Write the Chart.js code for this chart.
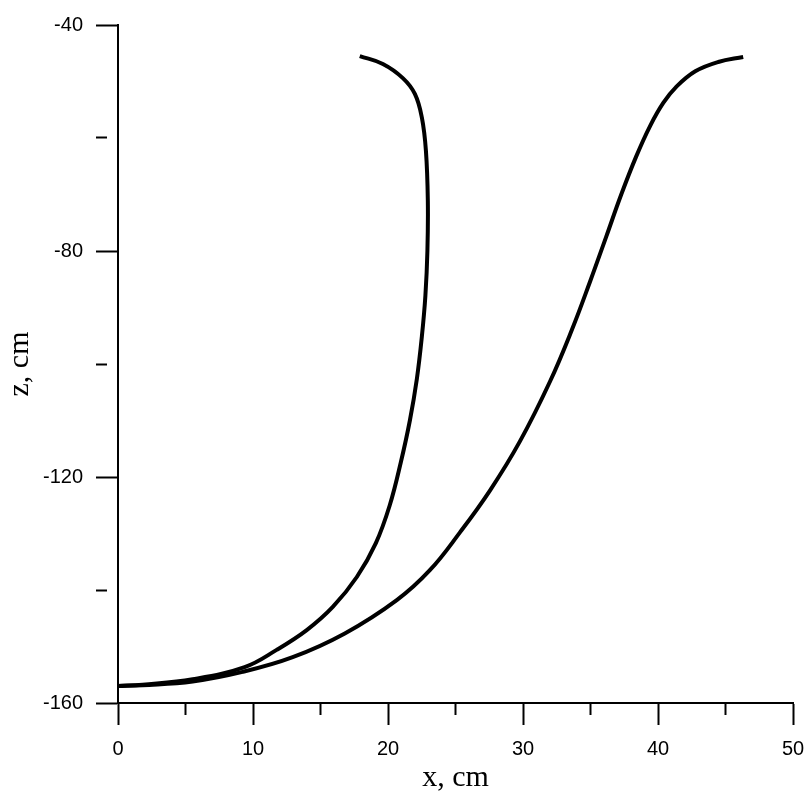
<!DOCTYPE html>
<html>
<head>
<meta charset="utf-8">
<script src="https://cdn.jsdelivr.net/npm/chart.js@4.4.1/dist/chart.umd.min.js"></script>
<style>
  html, body { margin: 0; padding: 0; background: #fff; }
  #wrap { width: 805px; height: 792px; }
</style>
</head>
<body>
<div id="wrap"><canvas id="profile"></canvas></div>
<script>
// curve that bends back near x = 23 cm (read from the top end down)
const innerX = [17.91, 19.62, 21.10, 21.99, 22.51, 22.81, 22.95, 22.92, 22.77, 22.51, 22.14, 21.62, 20.95, 20.13, 19.10, 17.69, 15.91, 13.98, 11.75, 9.38, 5.53, 1.82, 0];
const innerZ = [-45.5, -46.9, -49.4, -52.2, -56.4, -62.3, -71.1, -79.9, -87.9, -95.1, -102.6, -110.0, -117.4, -125.0, -131.7, -137.7, -143.0, -147.1, -150.6, -153.65, -155.8, -156.75, -157.0];

// wide S-shaped curve ending near x = 46 cm
const outerX = [0, 1.82, 5.53, 9.23, 12.94, 16.80, 20.65, 23.10, 25.33, 27.55, 29.77, 32.00, 33.63, 34.97, 36.16, 37.27, 38.38, 39.42, 40.39, 41.35, 42.76, 44.46, 46.31];
const outerZ = [-157.0, -156.85, -156.2, -154.5, -151.9, -147.7, -141.8, -136.5, -129.8, -122.4, -113.7, -103.1, -93.9, -85.4, -77.5, -70.05, -63.3, -57.85, -53.8, -50.95, -48.2, -46.55, -45.65];

const xTickLabels = [0, 10, 20, 30, 40, 50];
const zTickLabels = [-40, -80, -120, -160];

const toPoints = (xs, zs) => xs.map((x, i) => ({ x: x, y: zs[i] }));

const chartProfile = function () {
  const canvas = document.querySelector("#profile");

  const line = {
    showLine: true,
    pointRadius: 0,
    borderColor: "#000",
    borderWidth: 4,
    tension: 0.4,
    fill: false,
  };

  new Chart(canvas, {
    type: "scatter",
    data: {
      datasets: [
        { ...line, label: "inner", data: toPoints(innerX, innerZ) },
        { ...line, label: "outer", data: toPoints(outerX, outerZ) },
      ],
    },
    options: {
      responsive: true,
      maintainAspectRatio: false,
      animation: false,
      layout: { padding: { top: 24, right: 0, left: 0, bottom: 0 } },
      scales: {
        x: {
          type: "linear",
          min: 0,
          max: 50,
          afterFit: (s) => {
            s.height = 89;
            s.paddingRight = 12; // only half of the "50" label sticks out
          },
          border: { color: "#000", width: 2 },
          grid: {
            drawOnChartArea: false,
            tickLength: 22,
            tickWidth: 2,
            tickColor: "#000",
            // minor ticks are only half as long
            tickBorderDash: (ctx) => (ctx.tick && !xTickLabels.includes(ctx.tick.value) ? [11, 40] : []),
          },
          ticks: {
            stepSize: 5,
            autoSkip: false,
            maxRotation: 0,
            padding: 12,
            color: "#000",
            font: { family: "'Liberation Sans', Arial", size: 20 },
            callback: (v) => (xTickLabels.includes(v) ? v : ""),
          },
          title: {
            display: true,
            text: "x, cm",
            color: "#000",
            font: { family: "'Liberation Serif', 'Times New Roman'", size: 30, lineHeight: 1.2 },
            padding: { top: 0, bottom: -4 },
          },
        },
        y: {
          type: "linear",
          min: -160,
          max: -40,
          afterFit: (s) => { s.width = 118; },
          border: { color: "#000", width: 2 },
          grid: {
            drawOnChartArea: false,
            tickLength: 22,
            tickWidth: 2,
            tickColor: "#000",
            tickBorderDash: (ctx) => (ctx.tick && !zTickLabels.includes(ctx.tick.value) ? [11, 40] : []),
          },
          ticks: {
            stepSize: 20,
            autoSkip: false,
            padding: 13,
            color: "#000",
            font: { family: "'Liberation Sans', Arial", size: 20 },
            callback: (v) => (zTickLabels.includes(v) ? v : ""),
          },
          title: {
            display: true,
            text: "z, cm",
            color: "#000",
            font: { family: "'Liberation Serif', 'Times New Roman'", size: 30, lineHeight: 1.2 },
            padding: { top: 2, bottom: 0 },
          },
        },
      },
      plugins: {
        legend: { display: false },
        tooltip: { enabled: false },
      },
    },
  });
};

chartProfile();
</script>
</body>
</html>
